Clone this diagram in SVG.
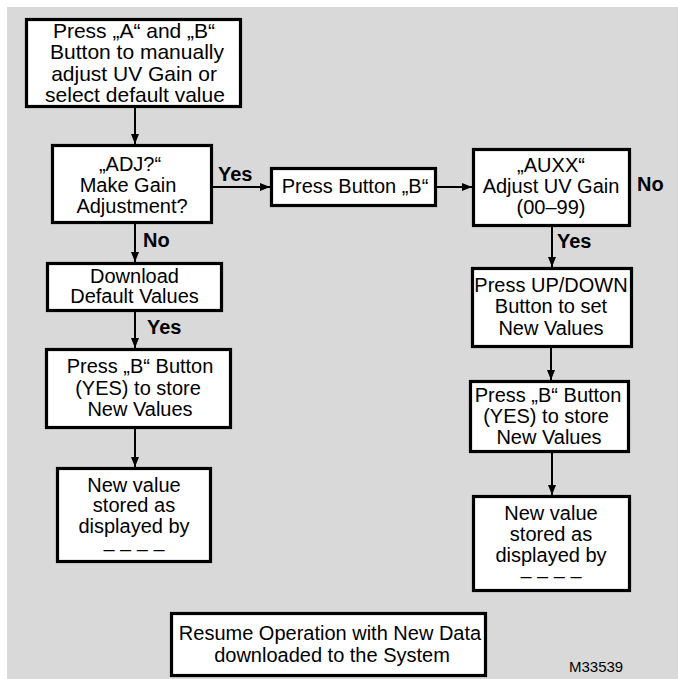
<svg xmlns="http://www.w3.org/2000/svg" width="678" height="679" viewBox="0 0 678 679">
<style>
.box{fill:#fff;stroke:#000;stroke-width:3.2}
.t{font-family:"Liberation Sans",Arial,sans-serif;font-size:20px;fill:#000;text-anchor:middle}
.big{font-size:21px}
.lb{font-family:"Liberation Sans",Arial,sans-serif;font-size:20px;font-weight:bold;fill:#000}
.c{stroke:#000;stroke-width:2;fill:none;marker-end:url(#ah)}
</style>
<defs>
<marker id="ah" markerUnits="userSpaceOnUse" markerWidth="10" markerHeight="8" refX="10" refY="4" orient="auto">
<path d="M0,0 L10,4 L0,8 z" fill="#000"/>
</marker>
</defs>
<rect x="0" y="0" width="678" height="679" fill="#fff"/>
<rect x="7" y="7" width="671" height="672" fill="#d9d9d9"/>
<g id="connectors">
<line class="c" x1="135" y1="108" x2="135" y2="144"/>
<line class="c" x1="213" y1="187" x2="270" y2="187"/>
<line class="c" x1="135" y1="224" x2="135" y2="262"/>
<line class="c" x1="135" y1="312" x2="135" y2="348"/>
<line class="c" x1="135" y1="429" x2="135" y2="467"/>
<line class="c" x1="437" y1="187" x2="472" y2="187"/>
<line class="c" x1="552" y1="227" x2="552" y2="267"/>
<line class="c" x1="551" y1="348" x2="551" y2="380"/>
<line class="c" x1="552" y1="453" x2="552" y2="495"/>
<text class="lb" x="218" y="181">Yes</text>
<text class="lb" x="143" y="247">No</text>
<text class="lb" x="147" y="334">Yes</text>
<text class="lb" x="637" y="191">No</text>
<text class="lb" x="557" y="248">Yes</text>
</g>
<g id="start">
<rect class="box" x="26.5" y="19.5" width="214" height="87"/>
<text class="t big" x="134" y="37.5">Press „A“ and „B“</text>
<text class="t big" x="137" y="59">Button to manually</text>
<text class="t big" x="134" y="80.5">adjust UV Gain or</text>
<text class="t big" x="135" y="102">select default value</text>
</g>
<g id="adj">
<rect class="box" x="52.5" y="145.5" width="159" height="77"/>
<text class="t" x="130" y="171">„ADJ?“</text>
<text class="t" x="128" y="192">Make Gain</text>
<text class="t" x="132" y="213">Adjustment?</text>
</g>
<g id="pressB">
<rect class="box" x="271.5" y="168.5" width="164" height="37"/>
<text class="t" x="355" y="193">Press Button „B“</text>
</g>
<g id="download">
<rect class="box" x="47.5" y="263.5" width="174" height="47"/>
<text class="t" x="134.5" y="283">Download</text>
<text class="t" x="134.5" y="303">Default Values</text>
</g>
<g id="store1">
<rect class="box" x="46.5" y="349.5" width="184" height="78"/>
<text class="t" x="140" y="373">Press „B“ Button</text>
<text class="t" x="138" y="395">(YES) to store</text>
<text class="t" x="140" y="416">New Values</text>
</g>
<g id="stored1">
<rect class="box" x="57.5" y="468.5" width="153" height="93"/>
<text class="t" x="134" y="492">New value</text>
<text class="t" x="134" y="512">stored as</text>
<text class="t" x="134" y="533">displayed by</text>
<text class="t" x="134" y="556">– – – –</text>
</g>
<g id="auxx">
<rect class="box" x="473.5" y="149.5" width="156" height="76"/>
<text class="t" x="551" y="172">„AUXX“</text>
<text class="t" x="551" y="193">Adjust UV Gain</text>
<text class="t" x="551" y="214">(00–99)</text>
</g>
<g id="updown">
<rect class="box" x="472.5" y="268.5" width="159" height="78"/>
<text class="t" x="551" y="292">Press UP/DOWN</text>
<text class="t" x="551" y="313">Button to set</text>
<text class="t" x="551" y="335">New Values</text>
</g>
<g id="store2">
<rect class="box" x="470.5" y="381.5" width="158" height="70"/>
<text class="t" x="548" y="402">Press „B“ Button</text>
<text class="t" x="546" y="423">(YES) to store</text>
<text class="t" x="549" y="444">New Values</text>
</g>
<g id="stored2">
<rect class="box" x="473.5" y="496.5" width="156" height="94"/>
<text class="t" x="551" y="520">New value</text>
<text class="t" x="551" y="541">stored as</text>
<text class="t" x="551" y="562">displayed by</text>
<text class="t" x="551" y="583">– – – –</text>
</g>
<g id="resume">
<rect class="box" x="171.5" y="613.5" width="314" height="62"/>
<text class="t" x="330" y="640">Resume Operation with New Data</text>
<text class="t" x="332" y="662">downloaded to the System</text>
</g>
<text x="569" y="672" font-family="Liberation Sans, Arial, sans-serif" font-size="15" fill="#000">M33539</text>
</svg>
